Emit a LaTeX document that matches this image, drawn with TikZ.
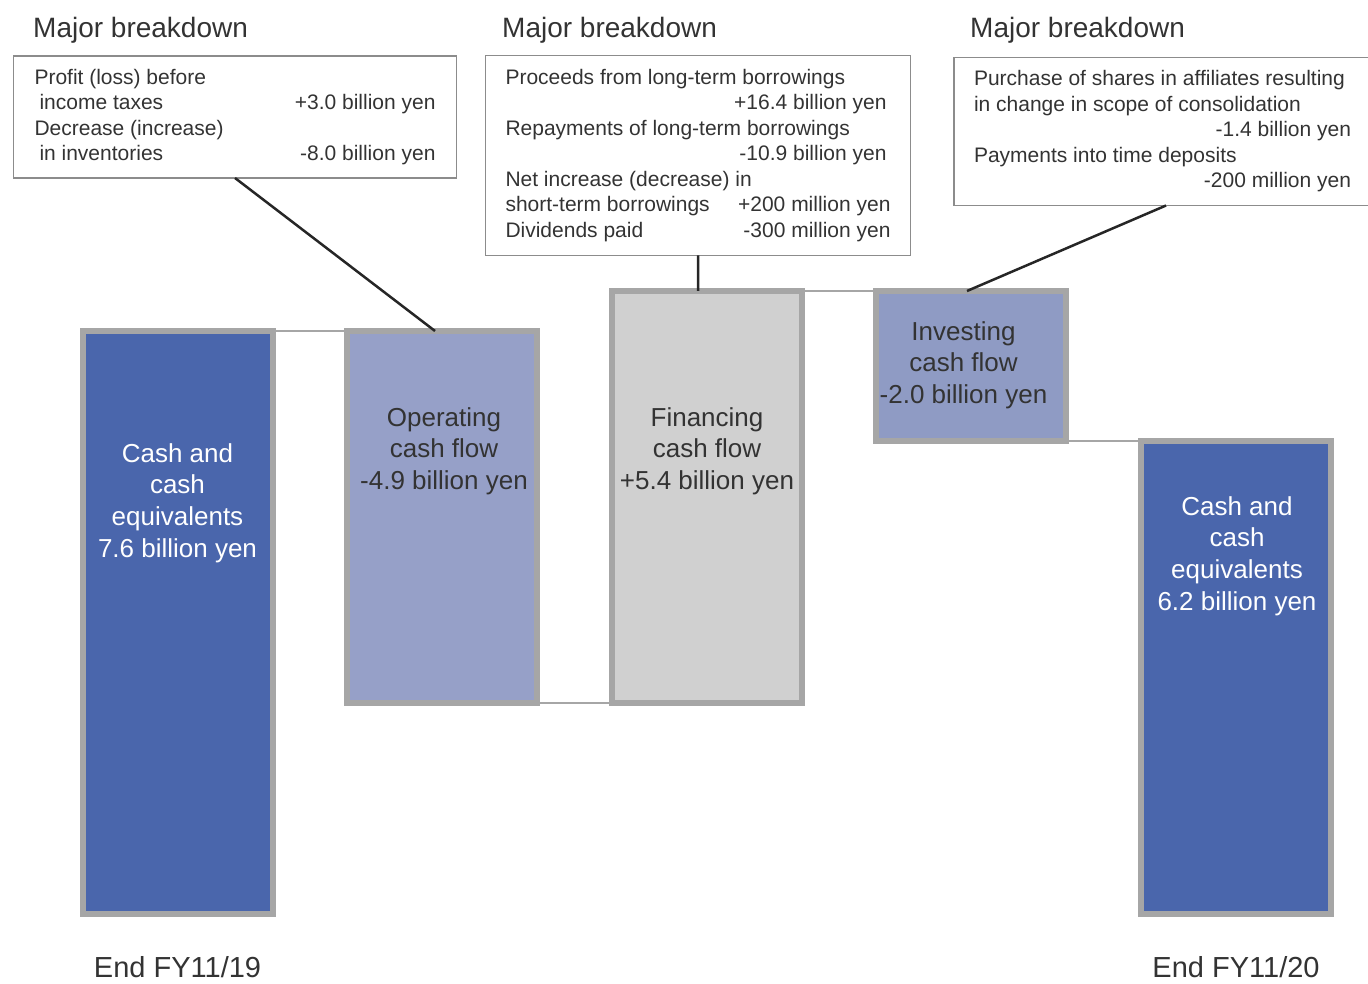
\documentclass[tikz,border=0pt]{standalone}
\usepackage{fontspec}
\setmainfont{Liberation Sans}
\usetikzlibrary{positioning}
\definecolor{cashblue}{HTML}{4A66AC}
\definecolor{opfill}{HTML}{96A0C8}
\definecolor{invfill}{HTML}{8F9BC4}
\definecolor{finfill}{HTML}{D0D0D0}
\definecolor{bargray}{HTML}{A6A6A6}
\definecolor{boxgray}{HTML}{8C8C8C}
\definecolor{inkgray}{HTML}{333333}

\begin{document}
\begin{tikzpicture}[x=1pt, y=-1pt, text=inkgray,
  bar/.style={draw=bargray, line width=6pt, minimum width=190pt, inner sep=0pt, outer sep=0pt},
  bartext/.style={align=center, inner sep=0pt, font=\fontsize{26}{31.7}\selectfont},
  infobox/.style={draw=boxgray, line width=1.5pt, align=flush left, inner xsep=21pt, inner ysep=0pt, outer sep=0pt, font=\fontsize{21}{25.5}\selectfont},
  boxtitle/.style={anchor=base west, inner sep=0pt, font=\fontsize{28}{34}\selectfont},
  yearlabel/.style={inner sep=0pt, font=\fontsize{29}{34}\selectfont},
  flowline/.style={draw=bargray, line width=2pt},
  callout/.style={draw=black!85, line width=2.5pt}]
\useasboundingbox (0,0) rectangle (1368,984);
\clip (0,0) rectangle (1368,984);

\node[bar, fill=cashblue, minimum height=583pt] (cashstart) at (177.5,622.5) {};
\node[bar, fill=opfill, minimum height=372pt] (opcf) at (442,517) {};
\node[bar, fill=finfill, minimum height=412pt] (fincf) at (707,497) {};
\node[bar, fill=invfill, minimum height=150pt] (invcf) at (971,366) {};
\node[bar, fill=cashblue, minimum height=473pt] (cashend) at (1236,677.5) {};

\node[bartext, text=white] (cashstart-txt) at (177.5,503) {Cash and\\cash\\equivalents\\7.6 billion yen};
\node[bartext] (opcf-txt) at (444,451) {Operating\\cash flow\\-4.9 billion yen};
\node[bartext] (fincf-txt) at (707,451) {Financing\\cash flow\\+5.4 billion yen};
\node[bartext] (invcf-txt) at (963.5,365) {Investing\\cash flow\\-2.0 billion yen};
\node[bartext, text=white] (cashend-txt) at (1237,556) {Cash and\\cash\\equivalents\\6.2 billion yen};

\path[flowline] (cashstart.north east) -- (opcf.north west)
  (opcf.south east) -- (opcf.south east -| fincf.west)
  (fincf.north east) -- (invcf.north west)
  (invcf.south east) -- (cashend.north west);

\node[infobox, text width=401pt, minimum height=122pt] (opbox) at (235,117) {Profit (loss) before\\
  \hspace*{5pt}income taxes\hfill+3.0 billion yen\\
  Decrease (increase)\\
  \hspace*{5pt}in inventories\hfill-8.0 billion yen};
\node[infobox, text width=385pt, inner xsep=20pt, minimum height=200pt] (finbox) at (698,155.5) {Proceeds from long-term borrowings\\
  \mbox{}\hfill+16.4 billion yen\hspace*{4pt}\mbox{}\\
  Repayments of long-term borrowings\\
  \mbox{}\hfill-10.9 billion yen\hspace*{4pt}\mbox{}\\
  Net increase (decrease) in\\
  short-term borrowings\hfill+200 million yen\\
  Dividends paid\hfill-300 million yen};
\node[infobox, text width=384pt, inner xsep=20pt, minimum height=148pt] (invbox) at (1166,131.5) {Purchase of shares in affiliates resulting\\
  in change in scope of consolidation\\
  \mbox{}\hfill-1.4 billion yen\hspace*{7pt}\mbox{}\\
  Payments into time deposits\\
  \mbox{}\hfill-200 million yen\hspace*{7pt}\mbox{}};

\node[boxtitle] (opbox-title) at (33,38) {Major breakdown};
\node[boxtitle] (finbox-title) at (502,38) {Major breakdown};
\node[boxtitle] (invbox-title) at (970,38) {Major breakdown};

\path[callout] (opbox.south) -- ([xshift=-7pt]opcf.north)
  (finbox.south) -- (finbox.south |- fincf.north)
  (invbox.south) -- ([xshift=-4pt]invcf.north);

\node[yearlabel, below=42pt of cashstart] (fy19) {End FY11/19};
\node[yearlabel, below=42pt of cashend] (fy20) {End FY11/20};
\end{tikzpicture}
\end{document}
